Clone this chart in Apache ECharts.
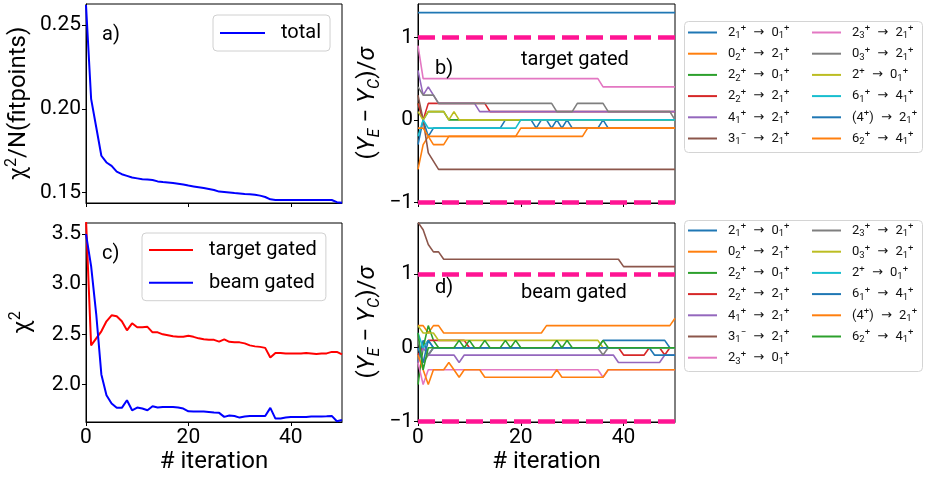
<!DOCTYPE html>
<html>
<head>
<meta charset="utf-8">
<script src="https://cdn.jsdelivr.net/npm/echarts@6/dist/echarts.min.js"></script>
<style>
  html, body { margin: 0; padding: 0; background: #fff; }
  #chart { width: 927px; height: 478px; }
</style>
</head>
<body>
<div id="chart"></div>
<script>
// ---- data (x = iteration 0..50) ----
const xTicks = [0, 20, 40];
const yTicksA = [0.15, 0.2, 0.25];
const yTicksC = [2.0, 2.5, 3.0, 3.5];
const yTicksDev = [-1, 0, 1];
const limitLines = [1, -1];

const totalChi = [
  0.262, 0.206, 0.189, 0.172, 0.168, 0.166, 0.1625, 0.161, 0.160, 0.159,
  0.1585, 0.158, 0.1578, 0.1575, 0.1567, 0.1563, 0.156, 0.1557, 0.1553, 0.1548,
  0.1542, 0.1537, 0.1532, 0.1527, 0.1522, 0.1516, 0.1506, 0.1503, 0.150, 0.1497,
  0.1495, 0.1492, 0.149, 0.1487, 0.1482, 0.1474, 0.146, 0.1456, 0.1456, 0.1456,
  0.1456, 0.1456, 0.1456, 0.1456, 0.1456, 0.1456, 0.1456, 0.1456, 0.1456, 0.1443,
  0.144
];

const targetChi = [
  3.65, 2.39, 2.46, 2.53, 2.63, 2.69, 2.68, 2.63, 2.54, 2.61,
  2.57, 2.57, 2.575, 2.52, 2.52, 2.50, 2.49, 2.48, 2.475, 2.475,
  2.485, 2.475, 2.46, 2.45, 2.447, 2.445, 2.427, 2.45, 2.425, 2.42,
  2.42, 2.41, 2.39, 2.38, 2.375, 2.365, 2.27, 2.315, 2.315, 2.31,
  2.31, 2.31, 2.31, 2.315, 2.31, 2.305, 2.31, 2.31, 2.325, 2.325,
  2.30
];

const beamChi = [
  3.5, 3.18, 2.70, 2.10, 1.893, 1.81, 1.767, 1.767, 1.843, 1.743,
  1.77, 1.76, 1.743, 1.783, 1.77, 1.775, 1.775, 1.775, 1.77, 1.76,
  1.733, 1.73, 1.73, 1.73, 1.725, 1.72, 1.717, 1.677, 1.69, 1.685,
  1.67, 1.68, 1.685, 1.685, 1.685, 1.685, 1.767, 1.66, 1.66, 1.67,
  1.675, 1.675, 1.675, 1.675, 1.68, 1.68, 1.68, 1.683, 1.687, 1.633,
  1.645
];

// panel b: target gated deviations
const targetLabels = [
  '2_1^+ → 0_1^+', '0_2^+ → 2_1^+', '2_2^+ → 0_1^+', '2_2^+ → 2_1^+',
  '4_1^+ → 2_1^+', '3_1^- → 2_1^+', '2_3^+ → 2_1^+', '0_3^+ → 2_1^+',
  '2^+ → 0_1^+', '6_1^+ → 4_1^+', '(4^+) → 2_1^+', '6_2^+ → 4_1^+'
];
const targetDev = [
  [-0.3, 0.0, -0.2, -0.1, -0.1, -0.1, -0.1, -0.1, -0.1, -0.1,
   -0.1, -0.1, -0.1, -0.1, -0.1, -0.1, -0.1, 0.0, 0.0, 0.0,
   0.0, 0.0, 0.0, -0.1, 0.0, 0.0, -0.1, 0.0, -0.1, 0.0,
   -0.1, -0.1, -0.1, -0.1, -0.1, -0.1, 0.0, -0.1, -0.1, -0.1,
   -0.1, -0.1, -0.1, -0.1, -0.1, -0.1, -0.1, -0.1, -0.1, -0.1,
   -0.1],
  [-0.6, -0.3, -0.2, -0.2, -0.2, -0.2, -0.2, -0.2, -0.2, -0.2,
   -0.2, -0.2, -0.2, -0.2, -0.2, -0.2, -0.2, -0.2, -0.2, -0.2,
   -0.1, -0.1, -0.1, -0.1, -0.1, -0.1, -0.1, -0.1, -0.1, -0.1,
   -0.1, -0.1, -0.1, -0.1, -0.1, -0.1, -0.1, -0.1, -0.1, -0.1,
   -0.1, -0.1, -0.1, -0.1, -0.1, -0.1, -0.1, -0.1, -0.1, -0.1,
   -0.1],
  [0.2, 0.0, 0.1, 0.1, 0.1, 0.1, 0.0, 0.0, 0.0, 0.0,
   0.0, 0.0, 0.0, 0.0, 0.0, 0.0, 0.0, 0.0, 0.0, 0.0,
   0.0, 0.0, 0.0, 0.0, 0.0, 0.0, 0.0, 0.0, 0.0, 0.0,
   0.0, 0.0, 0.0, 0.0, 0.0, 0.0, 0.0, 0.0, 0.0, 0.0,
   0.0, 0.0, 0.0, 0.0, 0.0, 0.0, 0.0, 0.0, 0.0, 0.0,
   0.0],
  [0.2, 0.0, 0.2, 0.2, 0.2, 0.2, 0.2, 0.2, 0.2, 0.2,
   0.2, 0.2, 0.2, 0.2, 0.1, 0.1, 0.1, 0.1, 0.1, 0.1,
   0.1, 0.1, 0.1, 0.1, 0.1, 0.1, 0.1, 0.1, 0.1, 0.1,
   0.1, 0.1, 0.1, 0.1, 0.1, 0.1, 0.1, 0.1, 0.1, 0.1,
   0.1, 0.1, 0.1, 0.1, 0.1, 0.1, 0.1, 0.1, 0.1, 0.1,
   0.1],
  [0.6, 0.3, 0.4, 0.3, 0.2, 0.2, 0.2, 0.2, 0.2, 0.2,
   0.2, 0.2, 0.1, 0.1, 0.1, 0.1, 0.1, 0.1, 0.1, 0.1,
   0.1, 0.1, 0.1, 0.1, 0.1, 0.1, 0.1, 0.1, 0.1, 0.1,
   0.1, 0.1, 0.1, 0.1, 0.1, 0.1, 0.1, 0.1, 0.1, 0.1,
   0.1, 0.1, 0.1, 0.1, 0.1, 0.1, 0.1, 0.1, 0.1, 0.1,
   0.1],
  [0.3, 0.0, -0.4, -0.5, -0.6, -0.6, -0.6, -0.6, -0.6, -0.6,
   -0.6, -0.6, -0.6, -0.6, -0.6, -0.6, -0.6, -0.6, -0.6, -0.6,
   -0.6, -0.6, -0.6, -0.6, -0.6, -0.6, -0.6, -0.6, -0.6, -0.6,
   -0.6, -0.6, -0.6, -0.6, -0.6, -0.6, -0.6, -0.6, -0.6, -0.6,
   -0.6, -0.6, -0.6, -0.6, -0.6, -0.6, -0.6, -0.6, -0.6, -0.6,
   -0.6],
  [0.9, 0.5, 0.5, 0.5, 0.5, 0.5, 0.5, 0.5, 0.5, 0.5,
   0.5, 0.5, 0.5, 0.5, 0.5, 0.5, 0.5, 0.5, 0.5, 0.5,
   0.5, 0.5, 0.5, 0.5, 0.5, 0.5, 0.5, 0.5, 0.5, 0.5,
   0.5, 0.5, 0.5, 0.5, 0.5, 0.5, 0.4, 0.4, 0.4, 0.4,
   0.4, 0.4, 0.4, 0.4, 0.4, 0.4, 0.4, 0.4, 0.4, 0.4,
   0.4],
  [0.4, 0.3, 0.3, 0.3, 0.2, 0.2, 0.2, 0.2, 0.2, 0.2,
   0.2, 0.2, 0.2, 0.2, 0.2, 0.2, 0.2, 0.2, 0.2, 0.2,
   0.2, 0.2, 0.2, 0.2, 0.2, 0.2, 0.2, 0.1, 0.1, 0.1,
   0.1, 0.2, 0.2, 0.2, 0.2, 0.2, 0.2, 0.1, 0.1, 0.1,
   0.1, 0.1, 0.1, 0.1, 0.1, 0.1, 0.1, 0.1, 0.1, 0.1,
   0.0],
  [0.1, 0.0, 0.1, 0.1, 0.1, 0.1, 0.0, 0.1, 0.0, 0.0,
   0.0, 0.0, 0.0, 0.0, 0.0, 0.0, 0.0, 0.0, 0.0, 0.0,
   0.0, 0.0, 0.0, 0.0, 0.0, 0.0, 0.0, 0.0, 0.0, 0.0,
   0.0, 0.0, 0.0, 0.0, 0.0, 0.0, 0.0, 0.0, 0.0, 0.0,
   0.0, 0.0, 0.0, 0.0, 0.0, 0.0, 0.0, 0.0, 0.0, 0.0,
   0.0],
  [-0.2, 0.0, -0.1, -0.1, -0.1, -0.1, -0.1, -0.1, -0.1, -0.1,
   -0.1, -0.1, -0.1, -0.1, -0.1, -0.1, -0.1, -0.1, -0.1, -0.1,
   0.0, 0.0, 0.0, 0.0, 0.0, 0.0, 0.0, 0.0, 0.0, 0.0,
   0.0, 0.0, 0.0, 0.0, 0.0, 0.0, 0.0, 0.0, 0.0, 0.0,
   0.0, 0.0, 0.0, 0.0, 0.0, 0.0, 0.0, 0.0, 0.0, 0.0,
   0.0],
  [1.3, 1.3, 1.3, 1.3, 1.3, 1.3, 1.3, 1.3, 1.3, 1.3,
   1.3, 1.3, 1.3, 1.3, 1.3, 1.3, 1.3, 1.3, 1.3, 1.3,
   1.3, 1.3, 1.3, 1.3, 1.3, 1.3, 1.3, 1.3, 1.3, 1.3,
   1.3, 1.3, 1.3, 1.3, 1.3, 1.3, 1.3, 1.3, 1.3, 1.3,
   1.3, 1.3, 1.3, 1.3, 1.3, 1.3, 1.3, 1.3, 1.3, 1.3,
   1.3],
  [-0.1, -0.1, -0.2, -0.3, -0.3, -0.3, -0.2, -0.2, -0.2, -0.2,
   -0.2, -0.2, -0.2, -0.2, -0.2, -0.2, -0.2, -0.2, -0.2, -0.2,
   -0.2, -0.2, -0.2, -0.2, -0.2, -0.2, -0.2, -0.2, -0.2, -0.2,
   -0.2, -0.2, -0.2, -0.1, -0.1, -0.1, -0.1, -0.1, -0.1, -0.1,
   -0.1, -0.1, -0.1, -0.1, -0.1, -0.1, -0.1, -0.1, -0.1, -0.1,
   -0.1]
];

// panel d: beam gated deviations
const beamLabels = [
  '2_1^+ → 0_1^+', '0_2^+ → 2_1^+', '2_2^+ → 0_1^+', '2_2^+ → 2_1^+',
  '4_1^+ → 2_1^+', '3_1^- → 2_1^+', '2_3^+ → 0_1^+', '2_3^+ → 2_1^+',
  '0_3^+ → 2_1^+', '2^+ → 0_1^+', '6_1^+ → 4_1^+', '(4^+) → 2_1^+',
  '6_2^+ → 4_1^+'
];
const beamDev = [
  [-0.2, 0.1, -0.1, 0.0, 0.0, 0.0, 0.0, 0.0, 0.0, 0.0,
   0.0, 0.0, 0.0, 0.0, 0.0, 0.0, 0.0, 0.0, 0.0, 0.0,
   0.0, 0.0, 0.0, 0.0, 0.0, 0.0, 0.0, 0.0, 0.0, 0.0,
   0.0, 0.0, 0.0, 0.0, 0.0, 0.0, 0.1, 0.1, 0.1, 0.1,
   0.1, 0.1, 0.1, 0.1, 0.1, 0.1, 0.1, 0.1, 0.1, 0.0,
   0.0],
  [0.3, 0.3, 0.2, 0.3, 0.3, 0.2, 0.2, 0.2, 0.2, 0.2,
   0.2, 0.2, 0.2, 0.2, 0.2, 0.2, 0.2, 0.2, 0.2, 0.2,
   0.2, 0.2, 0.2, 0.2, 0.2, 0.3, 0.3, 0.3, 0.3, 0.3,
   0.3, 0.3, 0.3, 0.3, 0.3, 0.3, 0.3, 0.3, 0.3, 0.3,
   0.3, 0.3, 0.3, 0.3, 0.3, 0.3, 0.3, 0.3, 0.3, 0.3,
   0.4],
  [-0.5, 0.0, 0.3, 0.1, 0.0, 0.0, 0.0, 0.0, 0.0, 0.0,
   0.0, 0.0, 0.0, 0.0, 0.0, 0.0, 0.0, 0.0, 0.0, 0.0,
   0.0, 0.0, 0.0, 0.0, 0.0, 0.0, 0.0, 0.0, 0.0, 0.0,
   0.0, 0.0, 0.0, 0.0, 0.0, 0.0, 0.0, 0.0, 0.0, 0.0,
   0.0, 0.0, 0.0, 0.0, 0.0, 0.0, 0.0, 0.0, 0.0, 0.0,
   0.0],
  [-0.1, 0.0, 0.1, 0.1, 0.1, 0.1, 0.1, 0.1, 0.1, 0.1,
   0.0, 0.0, 0.0, 0.0, 0.0, 0.0, 0.0, 0.0, 0.0, 0.0,
   0.0, 0.0, 0.0, 0.0, 0.0, 0.0, 0.0, 0.0, 0.0, 0.0,
   0.0, 0.0, 0.0, 0.0, 0.0, 0.0, 0.0, 0.0, 0.0, 0.0,
   -0.1, -0.1, -0.1, -0.1, -0.1, 0.0, 0.0, 0.0, -0.1, 0.0,
   0.0],
  [-0.2, 0.0, -0.1, -0.1, -0.1, -0.1, -0.1, -0.1, -0.2, -0.1,
   -0.1, -0.1, -0.1, -0.1, -0.1, -0.1, -0.1, -0.1, -0.1, -0.1,
   -0.1, -0.1, -0.1, -0.1, -0.1, -0.1, -0.1, -0.1, -0.1, -0.1,
   -0.1, -0.1, -0.1, -0.1, -0.1, -0.1, -0.1, -0.1, -0.1, -0.2,
   -0.2, -0.2, -0.2, -0.2, -0.2, -0.2, -0.2, -0.2, -0.1, -0.1,
   -0.1],
  [1.7, 1.6, 1.4, 1.3, 1.3, 1.2, 1.2, 1.2, 1.2, 1.2,
   1.2, 1.2, 1.2, 1.2, 1.2, 1.2, 1.2, 1.2, 1.2, 1.2,
   1.2, 1.2, 1.2, 1.2, 1.2, 1.2, 1.2, 1.2, 1.2, 1.2,
   1.2, 1.2, 1.2, 1.2, 1.2, 1.2, 1.2, 1.2, 1.2, 1.2,
   1.1, 1.1, 1.1, 1.1, 1.1, 1.1, 1.1, 1.1, 1.1, 1.1,
   1.1],
  [-0.2, -0.5, -0.3, -0.3, -0.3, -0.3, -0.3, -0.3, -0.3, -0.3,
   -0.3, -0.3, -0.3, -0.3, -0.3, -0.3, -0.3, -0.3, -0.3, -0.3,
   -0.3, -0.3, -0.3, -0.3, -0.3, -0.3, -0.3, -0.3, -0.3, -0.3,
   -0.3, -0.3, -0.3, -0.3, -0.3, -0.3, -0.4, -0.3, -0.3, -0.3,
   -0.3, -0.3, -0.3, -0.3, -0.3, -0.3, -0.3, -0.3, -0.3, -0.3,
   -0.3],
  [0.1, -0.2, -0.1, 0.0, 0.0, 0.0, 0.0, 0.0, 0.0, 0.0,
   0.0, 0.0, 0.0, 0.0, 0.0, 0.0, 0.0, 0.0, 0.0, 0.0,
   0.0, 0.0, 0.0, 0.0, 0.0, 0.0, 0.0, 0.0, 0.0, 0.0,
   0.0, 0.0, 0.0, 0.0, 0.0, 0.0, -0.1, 0.0, 0.0, 0.0,
   0.0, 0.0, 0.0, 0.0, 0.0, 0.0, 0.0, 0.0, 0.0, 0.0,
   0.0],
  [0.3, 0.2, 0.2, 0.2, 0.1, 0.1, 0.1, 0.1, 0.1, 0.1,
   0.1, 0.1, 0.1, 0.1, 0.1, 0.1, 0.1, 0.1, 0.1, 0.1,
   0.1, 0.1, 0.1, 0.1, 0.1, 0.1, 0.1, 0.1, 0.1, 0.1,
   0.1, 0.1, 0.1, 0.1, 0.1, 0.1, 0.0, 0.0, 0.0, 0.0,
   0.0, 0.0, 0.0, 0.0, 0.0, 0.0, 0.0, 0.0, 0.0, 0.0,
   0.0],
  [0.2, 0.0, 0.1, 0.0, 0.0, 0.0, 0.0, 0.0, 0.0, 0.0,
   0.0, 0.0, 0.0, 0.0, 0.0, 0.0, 0.0, 0.0, 0.0, 0.0,
   0.0, 0.0, 0.0, 0.0, 0.0, 0.0, 0.0, 0.0, 0.0, 0.0,
   0.0, 0.0, 0.0, 0.0, 0.0, 0.0, 0.0, 0.0, 0.0, 0.0,
   0.0, 0.0, 0.0, 0.0, 0.0, 0.0, 0.0, 0.0, 0.0, 0.0,
   0.0],
  [0.0, -0.2, 0.1, 0.0, 0.0, 0.0, 0.0, 0.0, 0.0, 0.0,
   0.0, 0.0, 0.0, 0.0, 0.0, 0.0, 0.0, 0.0, 0.0, 0.0,
   0.0, 0.0, 0.0, 0.0, 0.0, 0.0, 0.0, 0.0, 0.0, 0.0,
   0.0, 0.0, 0.0, 0.0, 0.0, 0.0, 0.0, 0.0, 0.0, 0.0,
   0.0, 0.0, 0.0, 0.0, 0.0, 0.0, -0.1, -0.1, -0.1, -0.1,
   -0.1],
  [-0.1, -0.3, -0.5, -0.3, -0.3, -0.3, -0.2, -0.3, -0.4, -0.3,
   -0.3, -0.3, -0.3, -0.4, -0.4, -0.4, -0.4, -0.4, -0.4, -0.4,
   -0.4, -0.4, -0.4, -0.4, -0.4, -0.4, -0.4, -0.3, -0.4, -0.4,
   -0.4, -0.4, -0.4, -0.4, -0.4, -0.4, -0.4, -0.3, -0.3, -0.3,
   -0.3, -0.3, -0.3, -0.3, -0.3, -0.3, -0.3, -0.3, -0.3, -0.3,
   -0.3],
  [0.2, -0.3, 0.0, 0.0, 0.0, 0.0, 0.0, 0.0, 0.1, 0.0,
   0.1, 0.0, 0.0, 0.1, 0.0, 0.0, 0.0, 0.1, 0.0, 0.1,
   0.0, 0.0, 0.0, 0.0, 0.0, 0.0, 0.0, 0.1, 0.0, 0.1,
   0.0, 0.0, 0.0, 0.0, 0.0, 0.0, 0.1, 0.0, 0.0, 0.0,
   0.0, 0.0, 0.0, 0.0, 0.0, 0.0, 0.0, 0.0, 0.0, 0.0,
   0.0]
];

// ---- styling ----
const FONT = 'Roboto, "DejaVu Sans", sans-serif';
const tab10 = ['#1f77b4', '#ff7f0e', '#2ca02c', '#d62728', '#9467bd',
               '#8c564b', '#e377c2', '#7f7f7f', '#bcbd22', '#17becf'];

// turn "2_1^+" into rich text tokens for sub/superscripts
function richLabel(s) {
  let out = '', buf = '';
  const flush = () => { if (buf) { out += '{n|' + buf + '}'; buf = ''; } };
  for (let i = 0; i < s.length; i++) {
    const c = s[i];
    if (c === '_' || c === '^') {
      flush();
      let t = s[++i];
      if (t === '-') t = '−';
      out += '{' + (c === '_' ? 'sub' : 'sup') + '|' + t + '}';
    } else if (c === '→') {
      flush();
      out += '{ar|→}';
    } else {
      buf += c;
    }
  }
  flush();
  return out;
}

const labelMap = {};
targetLabels.forEach((l, i) => { labelMap['b' + i] = richLabel(l); });
beamLabels.forEach((l, i) => { labelMap['d' + i] = richLabel(l); });

function lineSeries(name, values, color, idx, width) {
  return {
    name: name,
    type: 'line',
    xAxisIndex: idx,
    yAxisIndex: idx,
    data: values.map((v, i) => [i, v]),
    showSymbol: false,
    symbol: 'none',
    lineStyle: { color: color, width: width },
    itemStyle: { color: color },
    emphasis: { disabled: true },
    silent: true
  };
}

const dashMark = {
  silent: true,
  symbol: ['none', 'none'],
  label: { show: false },
  lineStyle: { color: '#ff1493', width: 4.5, type: [17, 7] },
  emphasis: { disabled: true },
  data: limitLines.map(v => ({ yAxis: v }))
};

const series = [];
series.push(lineSeries('total', totalChi, '#0000ff', 0, 2));
targetDev.forEach((vals, i) => {
  const s = lineSeries('b' + i, vals, tab10[i % 10], 1, 1.6);
  if (i === 0) s.markLine = dashMark;
  series.push(s);
});
series.push(lineSeries('target gated', targetChi, '#ff0000', 2, 2));
series.push(lineSeries('beam gated', beamChi, '#0000ff', 2, 2));
beamDev.forEach((vals, i) => {
  const s = lineSeries('d' + i, vals, tab10[i % 10], 3, 1.6);
  if (i === 0) s.markLine = dashMark;
  series.push(s);
});

const grids = [
  { left: 86, top: 4, width: 256, height: 199 },
  { left: 418, top: 4, width: 257, height: 199 },
  { left: 86, top: 223, width: 256, height: 199 },
  { left: 418, top: 223, width: 257, height: 199 }
].map(g => Object.assign(g, { show: true, borderColor: '#000', borderWidth: 1, backgroundColor: 'transparent' }));

function xAxis(idx, withLabels) {
  return {
    type: 'value', gridIndex: idx, min: 0, max: 50,
    axisLine: { show: true, onZero: false, lineStyle: { color: '#000', width: 1 } },
    axisTick: { show: true, length: 4, customValues: xTicks, lineStyle: { color: '#000' } },
    axisLabel: { show: withLabels, customValues: xTicks, fontSize: 21, color: '#000', fontFamily: FONT, margin: 5 },
    splitLine: { show: false },
    name: withLabels ? '# iteration' : '',
    nameLocation: 'middle', nameGap: 28,
    nameTextStyle: { fontSize: 24, color: '#000', fontFamily: FONT }
  };
}

const devName = '{n|(}{i|Y}{s|E}{n| − }{i|Y}{s|C}{n|)/}{i|σ}';
const devRich = {
  n: { fontSize: 24, lineHeight: 30, fontFamily: FONT, color: '#000' },
  i: { fontSize: 24, lineHeight: 30, fontStyle: 'italic', fontFamily: FONT, color: '#000' },
  s: { fontSize: 16, lineHeight: 16, fontStyle: 'italic', verticalAlign: 'bottom', fontFamily: FONT, color: '#000' }
};
const chiRich = {
  n: { fontSize: 24, lineHeight: 30, fontFamily: FONT, color: '#000' },
  sup: { fontSize: 16, lineHeight: 16, verticalAlign: 'top', fontFamily: FONT, color: '#000' }
};
const devFmt = v => (v < 0 ? '−' + Math.abs(v) : String(v));

function yAxis(idx, min, max, ticks, fmt, name, rich, gap) {
  return {
    type: 'value', gridIndex: idx, min: min, max: max,
    axisLine: { show: true, onZero: false, lineStyle: { color: '#000', width: 1 } },
    axisTick: { show: true, length: 4, customValues: ticks, lineStyle: { color: '#000' } },
    axisLabel: { customValues: ticks, formatter: fmt, fontSize: 21, color: '#000', fontFamily: FONT, margin: 5 },
    splitLine: { show: false },
    name: name, nameLocation: 'middle', nameGap: gap,
    nameTextStyle: { fontSize: 24, color: '#000', fontFamily: FONT, rich: rich }
  };
}

const legendRich = {
  n: { fontSize: 13, lineHeight: 17, fontFamily: FONT, color: '#111' },
  ar: { fontSize: 13, lineHeight: 17, fontFamily: FONT, color: '#111', padding: [0, 4, 0, 4] },
  sub: { fontSize: 9.5, lineHeight: 9, verticalAlign: 'bottom', fontFamily: FONT, color: '#111' },
  sup: { fontSize: 9.5, lineHeight: 9, verticalAlign: 'top', fontFamily: FONT, color: '#111' }
};

function devLegend(names, left, top) {
  return {
    orient: 'vertical', left: left, top: top, padding: 0,
    data: names, icon: 'rect', itemWidth: 29, itemHeight: 2,
    itemGap: 4.2, selectedMode: false,
    formatter: name => labelMap[name],
    textStyle: { fontSize: 13, fontFamily: FONT, padding: [0, 0, 0, 6], rich: legendRich }
  };
}

const bNames = targetLabels.map((l, i) => 'b' + i);
const dNames = beamLabels.map((l, i) => 'd' + i);

const chiLegendStyle = {
  orient: 'vertical', icon: 'rect', itemHeight: 2,
  selectedMode: false, borderColor: '#d0d0d0', borderWidth: 1, borderRadius: 4,
  backgroundColor: 'rgba(255,255,255,0.8)',
  textStyle: { fontSize: 20, lineHeight: 22, color: '#000', fontFamily: FONT, padding: [0, 0, 0, 11] }
};

const option = {
  animation: false,
  backgroundColor: '#fff',
  grid: grids,
  xAxis: [xAxis(0, false), xAxis(1, false), xAxis(2, true), xAxis(3, true)],
  yAxis: [
    yAxis(0, 0.1438, 0.2626, yTicksA, v => v.toFixed(2), '{n|χ}{sup|2}{n|/N(fitpoints)}', chiRich, 52),
    yAxis(1, -1.008, 1.405, yTicksDev, devFmt, devName, devRich, 35),
    yAxis(2, 1.626, 3.61, yTicksC, v => v.toFixed(1), '{n|χ}{sup|2}', chiRich, 48),
    yAxis(3, -1.008, 1.692, yTicksDev, devFmt, devName, devRich, 35)
  ],
  legend: [
    Object.assign({}, chiLegendStyle, { left: 213, top: 15, padding: [7, 9, 7, 7], itemWidth: 45, itemGap: 10, data: ['total'] }),
    Object.assign({}, chiLegendStyle, { left: 142, top: 233, padding: [6, 9, 7, 7], itemWidth: 44, itemGap: 10.7, data: ['target gated', 'beam gated'] }),
    devLegend(bNames.slice(0, 6), 688, 24),
    devLegend(bNames.slice(6), 812, 24),
    devLegend(dNames.slice(0, 7), 688, 222),
    devLegend(dNames.slice(7), 812, 222)
  ],
  graphic: [
    { type: 'rect', z: 0, shape: { x: 684.5, y: 21.5, width: 238, height: 131, r: 4 },
      style: { fill: 'rgba(255,255,255,0.8)', stroke: '#d4d4d4', lineWidth: 1 } },
    { type: 'rect', z: 0, shape: { x: 684.5, y: 220.5, width: 238, height: 151, r: 4 },
      style: { fill: 'rgba(255,255,255,0.8)', stroke: '#d4d4d4', lineWidth: 1 } },
    { type: 'text', z: 10, style: { text: 'a)', x: 102, y: 35, font: '20px ' + FONT, fill: '#000', verticalAlign: 'middle', textVerticalAlign: 'middle' } },
    { type: 'text', z: 10, style: { text: 'b)', x: 435, y: 69, font: '20px ' + FONT, fill: '#000', verticalAlign: 'middle', textVerticalAlign: 'middle' } },
    { type: 'text', z: 10, style: { text: 'c)', x: 102, y: 254, font: '20px ' + FONT, fill: '#000', verticalAlign: 'middle', textVerticalAlign: 'middle' } },
    { type: 'text', z: 10, style: { text: 'd)', x: 435, y: 288, font: '20px ' + FONT, fill: '#000', verticalAlign: 'middle', textVerticalAlign: 'middle' } },
    { type: 'text', z: 10, style: { text: 'target gated', x: 521, y: 60, font: '20px ' + FONT, fill: '#000', verticalAlign: 'middle', textVerticalAlign: 'middle' } },
    { type: 'text', z: 10, style: { text: 'beam gated', x: 521, y: 293, font: '20px ' + FONT, fill: '#000', verticalAlign: 'middle', textVerticalAlign: 'middle' } }
  ],
  series: series
};

const chart = echarts.init(document.getElementById('chart'), null, { renderer: 'canvas' });
chart.setOption(option);
</script>
</body>
</html>
